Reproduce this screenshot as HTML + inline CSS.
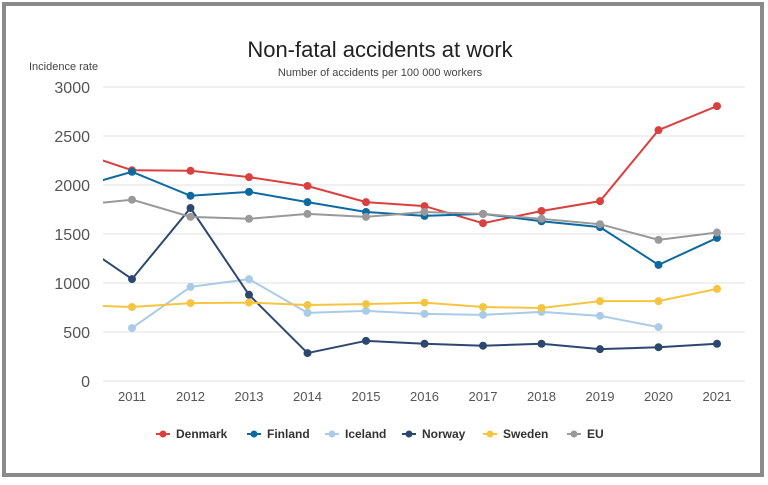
<!DOCTYPE html>
<html><head><meta charset="utf-8"><style>
body{margin:0;background:#fff;}
svg{display:block;font-family:"Liberation Sans",sans-serif;}
</style></head><body>
<svg width="768" height="485">
<rect x="4" y="4" width="758" height="471" fill="#fff" stroke="#8a8a8a" stroke-width="4"/>
<text x="380" y="57" text-anchor="middle" font-size="22" fill="#222">Non-fatal accidents at work</text>
<text x="380" y="76" text-anchor="middle" font-size="11" fill="#444">Number of accidents per 100 000 workers</text>
<text x="29" y="70" font-size="11" fill="#444">Incidence rate</text>
<defs><clipPath id="pc"><rect x="103" y="60" width="645" height="330"/></clipPath></defs>
<g id="grid"></g><g id="xt"></g><g id="series" clip-path="url(#pc)"></g><g id="legend"></g>
</svg>
<script>
const years=[2010,2011,2012,2013,2014,2015,2016,2017,2018,2019,2020,2021];
const yTicks=[0,500,1000,1500,2000,2500,3000];
const xLabels=[2011,2012,2013,2014,2015,2016,2017,2018,2019,2020,2021];
const names=["Denmark","Finland","Iceland","Norway","Sweden","EU"];
const colors=["#d9403e","#0d6aa0","#a9cbe8","#2c4770","#f5c542","#999999"];
const denmark=[2350,2150,2145,2080,1990,1825,1785,1610,1735,1835,2560,2805];
const finland=[1965,2135,1890,1930,1825,1725,1685,1705,1630,1570,1185,1460];
const iceland=[null,540,960,1040,695,715,685,675,705,665,550,null];
const norway=[1450,1040,1765,880,285,410,380,360,380,325,345,380];
const sweden=[775,755,795,800,775,785,800,755,745,815,815,940];
const eu=[1790,1850,1675,1655,1705,1675,1725,1705,1655,1600,1440,1515];
const data=[denmark,finland,iceland,norway,sweden,eu];
const NS="http://www.w3.org/2000/svg";
const x=yr=>132+(yr-2011)*58.5;
const y=v=>381-v*294/3000;
function mk(t,a,p){const e=document.createElementNS(NS,t);for(const k in a)e.setAttribute(k,a[k]);p.appendChild(e);return e;}
const grid=document.getElementById('grid');
yTicks.forEach(v=>{
 const l=mk('line',{x1:103,x2:745,y1:y(v),y2:y(v),stroke:'#e2e2e2','stroke-width':1},grid);
 
 
 const t=mk('text',{x:90,y:y(v)+6,'text-anchor':'end','font-size':16,fill:'#555'},grid);
 t.textContent=v;
 
 
});
const xt=document.getElementById('xt');
xLabels.forEach(yr=>{
 const t=mk('text',{x:x(yr),y:401,'text-anchor':'middle','font-size':13,fill:'#555'},xt);
 t.textContent=yr;
 
 
});
const sg=document.getElementById('series');
data.forEach((arr,i)=>{
 const g=mk('g',{},sg);
 
 
 let d='';let pen=false;
 arr.forEach((v,j)=>{if(v==null){pen=false;return;}d+=(pen?'L':'M')+x(years[j])+' '+y(v)+' ';pen=true;});
 mk('path',{d:d,fill:'none',stroke:colors[i],'stroke-width':2},g);
 arr.forEach((v,j)=>{if(v==null||years[j]<2011)return;
  const c=mk('circle',{cx:x(years[j]),cy:y(v),r:4,fill:colors[i]},g);
  
  
 });
});
const lg=document.getElementById('legend');
const lx=[156,247,325,402,483,567];
names.forEach((n,i)=>{
 const g=mk('g',{},lg);
 
 
 mk('line',{x1:lx[i],x2:lx[i]+14,y1:434,y2:434,stroke:colors[i],'stroke-width':2},g);
 mk('circle',{cx:lx[i]+7,cy:434,r:3.5,fill:colors[i]},g);
 const t=mk('text',{x:lx[i]+20,y:438,'font-size':12,'font-weight':'bold',fill:'#333'},g);
 t.textContent=n;
});
</script>
</body></html>
